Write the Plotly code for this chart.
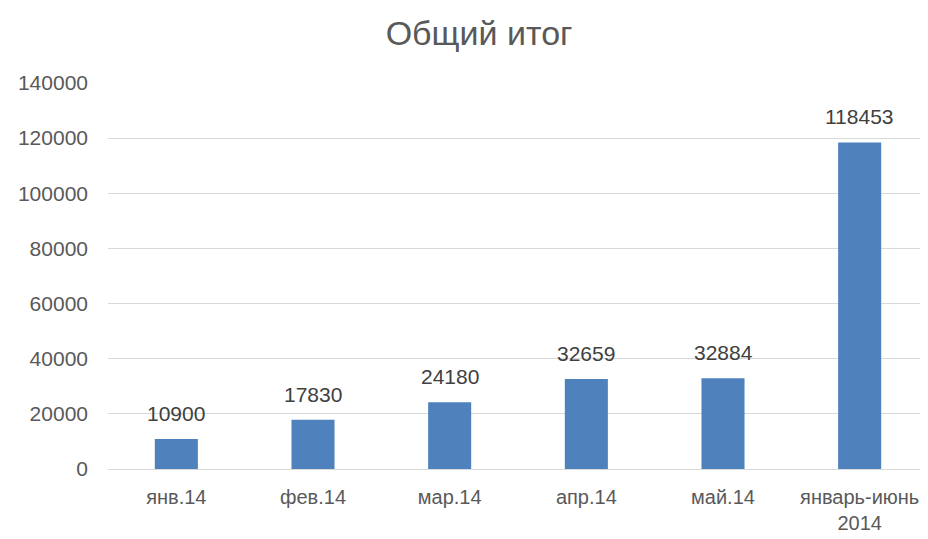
import plotly.graph_objects as go

categories = ["янв.14", "фев.14", "мар.14", "апр.14", "май.14", "январь-июнь<br>2014"]
values = [10900, 17830, 24180, 32659, 32884, 118453]
y_ticks = [0, 20000, 40000, 60000, 80000, 100000, 120000, 140000]

FONT = "Liberation Sans, Arial"

fig = go.Figure(go.Bar(
    x=categories, y=values,
    marker=dict(color="#4f81bd", line=dict(width=0)),
    width=0.315,
    hoverinfo="x+y",
))
for c, v in zip(categories, values):
    fig.add_annotation(x=c, y=v, text=str(v), showarrow=False,
                       yanchor="bottom", yshift=12,
                       font=dict(size=21, color="#404040", family=FONT))

# page body has an 8px margin, so the figure is 8px smaller and offset
fig.update_layout(
    width=920, height=531,
    margin=dict(l=100, r=0, t=75, b=70),
    paper_bgcolor="white", plot_bgcolor="white",
    title=dict(text="Общий итог", x=0.512, xanchor="center", y=1 - 25 / 531, yanchor="middle",
               font=dict(size=34, color="#595959", family=FONT)),
    font=dict(family=FONT, color="#595959", size=21),
    showlegend=False,
)
fig.update_yaxes(range=[0, 140000], tickvals=y_ticks, ticktext=[str(v) for v in y_ticks],
                 showgrid=True, gridcolor="#d9d9d9", gridwidth=1,
                 zeroline=True, zerolinecolor="#d9d9d9", zerolinewidth=1,
                 ticks="", ticklabelstandoff=19, automargin=False,
                 tickfont=dict(size=21, color="#595959"))
fig.update_xaxes(showline=False, ticks="", automargin=False, ticklabelstandoff=14,
                 tickfont=dict(size=20, color="#595959"))
fig.write_html("out.html")
